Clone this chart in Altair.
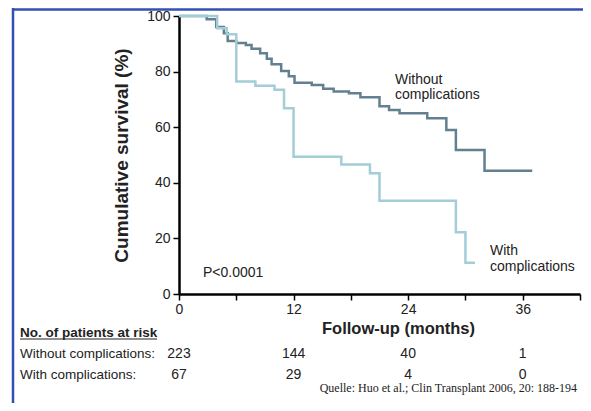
import altair as alt
import pandas as pd

# Kaplan-Meier curves (months, cumulative survival %)
dark_t = [0, 2.9, 3.9, 4.7, 5.1, 6.0, 7.0, 7.6, 8.5, 9.2, 9.7, 10.7, 11.5, 12.1,
          13.9, 15.1, 16.2, 17.8, 19.0, 21.0, 22.0, 23.1, 26.0, 28.0, 29.0, 32.0, 37.0]
dark_s = [100, 98.8, 96.0, 93.8, 91.0, 90.3, 89.6, 88.2, 86.6, 84.6, 82.6, 80.2, 78.3, 76.0,
          75.2, 73.8, 72.8, 72.2, 70.8, 67.5, 66.2, 65.0, 63.2, 59.0, 51.8, 44.3, 44.3]
light_t = [0, 4.0, 5.0, 6.0, 8.0, 10.0, 11.0, 12.0, 17.0, 20.0, 21.0, 29.0, 30.0, 31.0]
light_s = [100, 95.6, 93.4, 76.4, 74.9, 73.5, 66.8, 49.4, 46.6, 43.4, 33.5, 22.2, 11.2, 11.2]

risk_months = [0, 12, 24, 36]
risk_without = [223, 144, 40, 1]
risk_with = [67, 29, 4, 0]

x_ticks = [0, 6, 12, 18, 24, 30, 36, 42]
y_ticks = [0, 20, 40, 60, 80, 100]

FONT = "Liberation Sans"
TXT = "#222222"
DARK = "#62808f"
LIGHT = "#a3cdd9"
FRAME = "#3350b0"

xscale = alt.Scale(domain=[0, 42], nice=False, zero=False)
yscale = alt.Scale(domain=[0, 100], nice=False)

x_axis = alt.Axis(
    values=x_ticks,
    labelExpr="(datum.value % 12 == 0 && datum.value < 40) ? datum.label : ''",
    title="Follow-up (months)",
    titleX=219, titleY=39, titleAlign="center", titleBaseline="alphabetic",
    titleFontSize=16.5, titleFontWeight="bold", titleFont=FONT, titleColor=TXT,
    labelFontSize=14, labelFont=FONT, labelColor=TXT, labelPadding=2,
    tickSize=6, tickWidth=1.5, tickColor="black",
    domainColor="black", domainWidth=2.5, grid=False, labelFlush=False,
)
y_axis = alt.Axis(
    values=y_ticks,
    title="Cumulative survival (%)",
    titleX=-52, titleY=139, titleAngle=270, titleAlign="center", titleBaseline="alphabetic",
    titleFontSize=19, titleFontWeight="bold", titleFont=FONT, titleColor=TXT,
    labelFontSize=14, labelFont=FONT, labelColor=TXT, labelPadding=3,
    tickSize=6, tickWidth=1.5, tickColor="black",
    domainColor="black", domainWidth=2.5, grid=False,
)

dark_df = pd.DataFrame({"t": dark_t, "s": dark_s})
light_df = pd.DataFrame({"t": light_t, "s": light_s})
risk_df = pd.DataFrame({"m": risk_months, "wo": risk_without, "wi": risk_with})

X = alt.X("t:Q", scale=xscale, axis=x_axis)
Y = alt.Y("s:Q", scale=yscale, axis=y_axis)

dark_line = alt.Chart(dark_df).mark_line(
    interpolate="step-after", strokeWidth=2.5, color=DARK
).encode(x=X, y=Y)

light_line = alt.Chart(light_df).mark_line(
    interpolate="step-after", strokeWidth=2.5, color=LIGHT
).encode(x=X, y=Y)

one = alt.Data(values=[{"a": 1}])


def label(text, x, y, size=14, weight="normal", align="left", font=FONT, line_height=15):
    return alt.Chart(one).mark_text(
        align=align, baseline="alphabetic", fontSize=size, fontWeight=weight,
        font=font, color=TXT, lineBreak="\n", lineHeight=line_height,
    ).encode(x=alt.value(x), y=alt.value(y), text=alt.value(text))


ann_without = label("Without\ncomplications", 216, 68, line_height=15)
ann_with = label("With\ncomplications", 311, 239, line_height=16)
ann_p = label("P<0.0001", 24, 261)

risk_head = label("No. of patients at risk", -159, 321, size=13.5, weight="bold")
risk_line = alt.Chart(one).mark_rule(color=TXT, strokeWidth=1.2).encode(
    x=alt.value(-159), x2=alt.value(-22), y=alt.value(323)
)
row1 = label("Without complications:", -159, 342, size=13.5)
row2 = label("With complications:", -159, 363, size=13.5)

XM = alt.X("m:Q", scale=xscale, axis=x_axis)
nums1 = alt.Chart(risk_df).mark_text(
    align="center", baseline="alphabetic", fontSize=14, font=FONT, color=TXT
).encode(x=XM, y=alt.value(342), text="wo:Q")
nums2 = alt.Chart(risk_df).mark_text(
    align="center", baseline="alphabetic", fontSize=14, font=FONT, color=TXT
).encode(x=XM, y=alt.value(363), text="wi:Q")

source = label("Quelle: Huo et al.; Clin Transplant 2006, 20: 188-194", 398, 376,
               size=12, align="right", font="Liberation Serif")

frame_left = alt.Chart(one).mark_rule(color=FRAME, strokeWidth=2.5).encode(
    x=alt.value(-166), y=alt.value(-8), y2=alt.value(390)
)
frame_top = alt.Chart(one).mark_rule(color=FRAME, strokeWidth=2.5).encode(
    x=alt.value(-166), x2=alt.value(410), y=alt.value(-6.5)
)

chart = alt.layer(
    dark_line, light_line, frame_left, frame_top,
    ann_without, ann_with, ann_p,
    risk_head, risk_line, row1, row2, nums1, nums2, source,
).properties(
    width=401, height=278,
    autosize=alt.AutoSizeParams(type="none"),
    padding={"left": 171, "top": 8, "right": 3, "bottom": 109},
    background="white",
).configure_view(stroke=None)

chart.save("out.html", embed_options={"renderer": "svg", "actions": False})
